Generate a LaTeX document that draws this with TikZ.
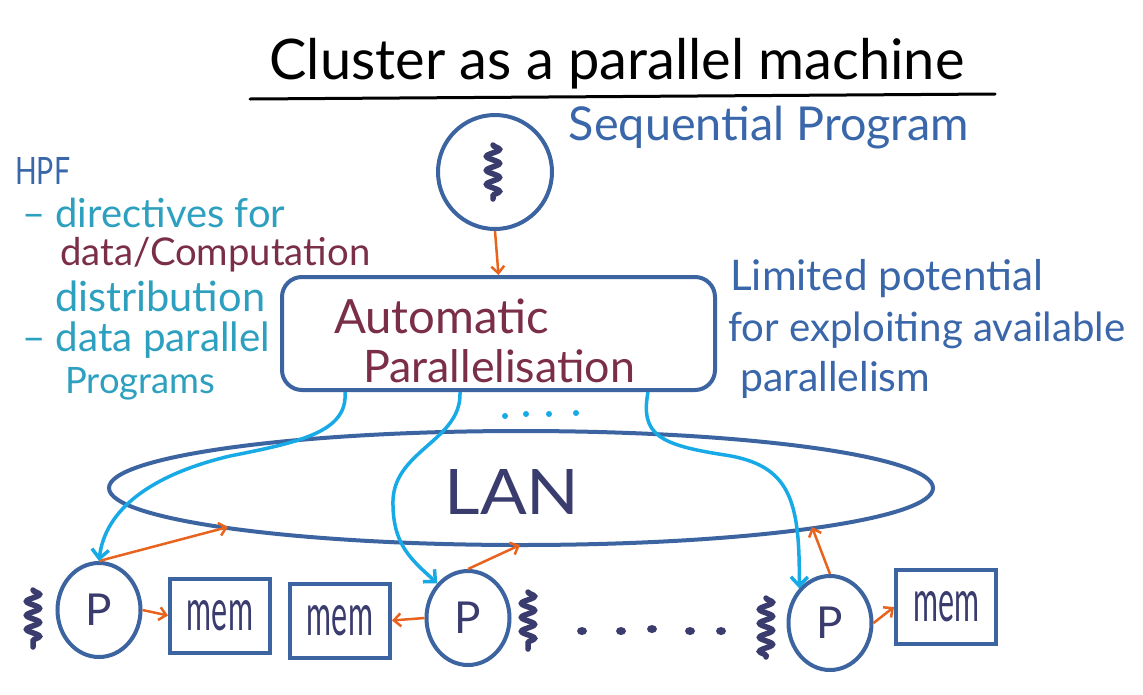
\documentclass[tikz,border=0pt]{standalone}
\usepackage{fontspec}
\setmainfont{Lato}
\usetikzlibrary{arrows.meta,decorations.pathmorphing,shapes.geometric}
\definecolor{lineblue}{HTML}{3C64A0}
\definecolor{txtblue}{HTML}{3A66AA}
\definecolor{tealc}{HTML}{2DA0C0}
\definecolor{maroonc}{HTML}{7A2E48}
\definecolor{navyc}{HTML}{3A3C6E}
\definecolor{orangec}{HTML}{E8641E}
\definecolor{cyanc}{HTML}{18AAE6}
\newcommand{\fw}[2]{\resizebox{#1}{!}{\fontsize{20}{24}\selectfont #2}}
\newcommand{\fwh}[3]{\resizebox{#1}{#2}{\fontsize{20}{24}\selectfont #3}}
\begin{document}
\begin{tikzpicture}[x=1pt,y=-1pt,
  outl/.style={draw=lineblue, line width=4pt},
  oarr/.style={draw=orangec, line width=2.5pt, -{Straight Barb[length=7pt,width=13pt]}},
  carr/.style={draw=cyanc, line width=3.5pt, -{Straight Barb[length=9pt,width=17pt]}},
  squig/.style={draw=navyc, line width=5.5pt, line cap=round, decorate, decoration={snake, amplitude=6.5pt, segment length=14pt}},
  txt/.style={inner sep=0pt, anchor=west},
  proc/.style={ellipse, outl, minimum width=83pt, minimum height=94pt, inner sep=0pt, text=navyc, font=\fontsize{44}{44}\selectfont},
  memb/.style={rectangle, outl, minimum width=100pt, minimum height=74pt, inner sep=0pt, text=navyc}
]
\useasboundingbox[fill=white] (0,0) rectangle (1143,694);

% title
\node[inner sep=0pt, text=black] (title) at (617,64) {\fw{695pt}{Cluster as a parallel machine}};
\draw[black, line width=3pt, line cap=round] (250,99) -- (995,94);

% sequential program
\node[circle, outl, minimum size=114pt, inner sep=0pt] (seq) at (495,172) {};
\draw[squig] (493,145) -- (493,199);
\node[inner sep=0pt, text=txtblue] (seqlab) at (769,128) {\fw{400pt}{Sequential Program}};

% automatic parallelisation box
\node[rounded corners=20pt, outl, minimum width=433pt, minimum height=113pt] (auto) at (498.5,333.5) {};
\node[txt, text=maroonc] (a1) at (334,316) {\fw{215pt}{Automatic}};
\node[txt, text=maroonc] (a2) at (363,366) {\fw{272pt}{Parallelisation}};
\draw[oarr] (seq.south) -- (auto.north);

% left notes
\node[txt, text=txtblue] (hpf) at (15,171) {\fwh{55pt}{27pt}{HPF}};
\node[txt, text=tealc] (l1) at (22,213) {\fw{263pt}{– directives for}};
\node[txt, text=maroonc] (l2) at (60,255) {\fw{310pt}{data/Computation}};
\node[txt, text=tealc] (l3) at (55,296) {\fw{210pt}{distribution}};
\node[txt, text=tealc] (l4) at (22,340) {\fw{248pt}{– data parallel}};
\node[txt, text=tealc] (l5) at (65,384) {\fw{150pt}{Programs}};

% right notes
\node[txt, text=txtblue] (r1) at (730,279) {\fw{313pt}{Limited potential}};
\node[txt, text=txtblue] (r2) at (728,330) {\fw{397pt}{for exploiting available}};
\node[txt, text=txtblue] (r3) at (740,380) {\fw{190pt}{parallelism}};

% LAN
\node[ellipse, outl, minimum width=824pt, minimum height=114pt, inner sep=0pt] (lan) at (521,488) {};
\node[inner sep=0pt, text=navyc] (lanlab) at (512,492) {\fwh{135pt}{45pt}{LAN}};

% processors and memories
\node[proc] (p1) at (99,610) {P};
\node[memb] (m1) at (220,615.5) {\fwh{66pt}{30pt}{mem}};
\node[memb] (m2) at (340,620.5) {\fwh{66pt}{30pt}{mem}};
\node[proc] (p2) at (468,618) {P};
\node[proc] (p3) at (830,623) {P};
\node[memb] (m3) at (946,607) {\fwh{66pt}{30pt}{mem}};

\draw[squig] (33,590) -- (33,647);
\draw[squig] (528,592) -- (528,649);
\draw[squig] (766,598) -- (766,657);

% dots
\foreach \x/\y in {505/416,526/414,549/414,576/413}
  \fill[cyanc] (\x,\y) circle (3pt);
\foreach \x/\y in {582/631,621/631,652/629,690/631,721/631}
  \fill[navyc] (\x,\y) ellipse (5pt and 4pt);

% orange connectors
\coordinate (e1) at (228,527);
\coordinate (e2) at (520,545);
\coordinate (e3) at (812,527);
\draw[oarr] (p1.east) -- (m1.west);
\draw[oarr] (p2.west) -- (m2.east);
\draw[oarr] (p3.east) -- (m3.west);
\draw[oarr] (p1.north) -- (e1);
\draw[oarr] (p2.north) -- (e2);
\draw[oarr] (p3.north) -- (e3);

% cyan distribution arrows
\coordinate (s1) at (345,392);
\coordinate (s2) at (460,392);
\coordinate (s3) at (648,392);
\draw[carr] (s1) .. controls (348,432) and (300,442) .. (230,456) .. controls (150,475) and (105,510) .. (p1.north);
\draw[carr] (s2) .. controls (462,440) and (395,450) .. (393,500) .. controls (392,545) and (412,560) .. (p2.north west);
\draw[carr] (s3) .. controls (640,435) and (660,445) .. (725,455) .. controls (790,465) and (800,500) .. (p3.north west);
\end{tikzpicture}
\end{document}
